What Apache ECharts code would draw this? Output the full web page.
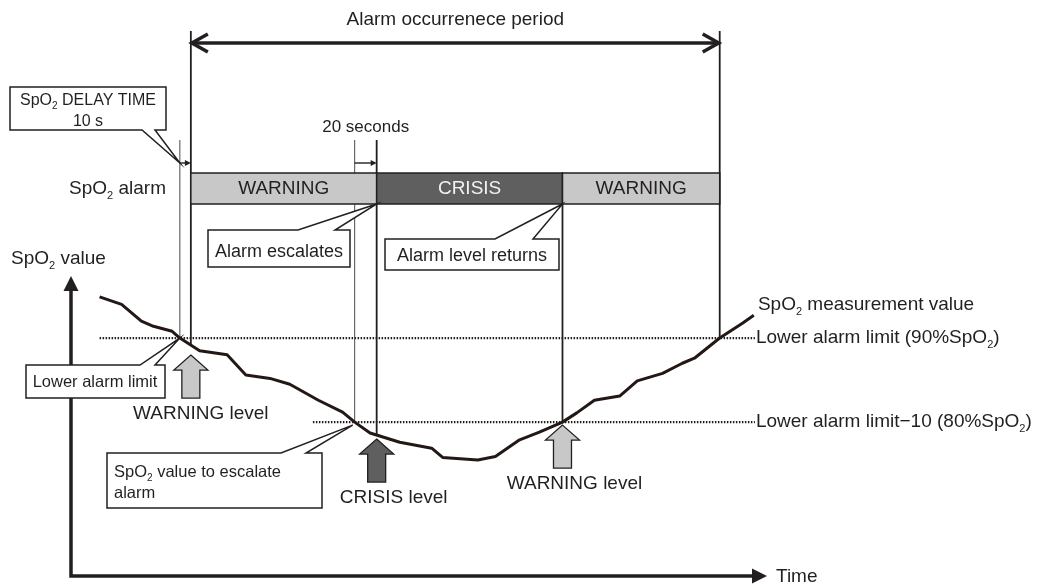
<!DOCTYPE html>
<html>
<head>
<meta charset="utf-8">
<title>SpO2 alarm escalation</title>
<script src="https://cdn.jsdelivr.net/npm/echarts@6/dist/echarts.min.js"></script>
<style>
  html, body { margin: 0; padding: 0; background: #ffffff; }
  #chart { width: 1045px; height: 586px; }
</style>
</head>
<body>
<div id="chart"></div>
<script>
// SpO2 trend: elapsed time (s) and measured SpO2 (%)
const timeS = [26, 46, 64, 75, 92, 99, 117, 142, 159, 181, 199, 225, 247, 258, 272, 299, 328, 338, 370, 386,
               408, 426, 447, 460, 476, 499, 515, 538, 556, 567, 590, 611, 621];
const spo2  = [94.9, 94.0, 92.0, 91.4, 90.8, 90.0, 88.5, 88.0, 85.6, 85.2, 84.5, 82.6, 81.2, 80.0, 78.7, 77.6, 76.9, 75.8, 75.5, 75.9,
               77.9, 78.8, 80.0, 81.1, 82.6, 83.1, 84.9, 85.8, 87.0, 87.6, 90.0, 91.8, 92.7];

// Alarm settings (% SpO2, s)
const lowerLimit = 90;
const escalateLimit = 80;
const delayTime = 10;
const escalateDelay = 20;

// Times (s) at which the trend crosses the limits
const fallBelowLower = 99;
const fallBelowEscalate = 258;
const riseAboveEscalate = 447;
const riseAboveLower = 590;

// Alarm level segments shown in the alarm row
const alarmLevels = ['WARNING', 'CRISIS', 'WARNING'];
const alarmBounds = [fallBelowLower + delayTime, fallBelowEscalate + escalateDelay, riseAboveEscalate, riseAboveLower];

// Axis extents
const xMax = 633;
const yMin = 61.7;
const yMax = 130.2;

const FONT = '"Liberation Sans", Arial, Helvetica, sans-serif';
const INK = '#231f20';
const LIGHT = '#c8c8c8';
const DARK = '#5f5f5f';

function spo2At(t) {
  for (let i = 1; i < timeS.length; i++) {
    if (t <= timeS[i]) {
      const f = (t - timeS[i - 1]) / (timeS[i] - timeS[i - 1]);
      return spo2[i - 1] + f * (spo2[i] - spo2[i - 1]);
    }
  }
  return spo2[spo2.length - 1];
}

// text with optional subscript fragments: {m|...} main, {s|...} subscript
function label(x, y, str, size, align, vAlign, color) {
  const c = color || INK;
  return {
    type: 'text',
    style: {
      x: x, y: y, text: str,
      align: align, verticalAlign: vAlign,
      textAlign: align, textVerticalAlign: vAlign,
      fontFamily: FONT, fontSize: size, fill: c,
      rich: {
        m: { fontFamily: FONT, fontSize: size, lineHeight: size + 5, fill: c, color: c },
        s: { fontFamily: FONT, fontSize: Math.round(size * 0.6), fill: c, color: c, verticalAlign: 'bottom' }
      }
    }
  };
}

function seg(x1, y1, x2, y2, w, color, dash) {
  return {
    type: 'line',
    shape: { x1: x1, y1: y1, x2: x2, y2: y2 },
    style: { stroke: color || INK, lineWidth: w, lineDash: dash || null }
  };
}

// speech-bubble box with a wedge pointing at tip
function callout(x0, y0, x1, y1, side, a, b, tip) {
  const pts = side === 'top'
    ? [[x0, y0], [a, y0], tip, [b, y0], [x1, y0], [x1, y1], [x0, y1]]
    : [[x0, y0], [x1, y0], [x1, y1], [b, y1], tip, [a, y1], [x0, y1]];
  return { type: 'polygon', shape: { points: pts }, style: { fill: '#ffffff', stroke: INK, lineWidth: 1.5, lineJoin: 'miter' } };
}

function blockArrow(cx, tipY, fill) {
  const pts = [[cx, tipY], [cx + 17, tipY + 15], [cx + 9, tipY + 15], [cx + 9, tipY + 43],
               [cx - 9, tipY + 43], [cx - 9, tipY + 15], [cx - 17, tipY + 15]];
  return { type: 'polygon', shape: { points: pts }, style: { fill: fill, stroke: INK, lineWidth: 1.3, lineJoin: 'miter' } };
}

function smallArrow(xa, xb, y) {
  return [
    seg(xa, y, xb - 5, y, 1.4),
    { type: 'polygon', shape: { points: [[xb, y], [xb - 6, y - 3], [xb - 6, y + 3]] }, style: { fill: INK } }
  ];
}

// layer below the trend: axes, limit lines, event lines, alarm row
function renderBack(params, api) {
  const X = t => api.coord([t, lowerLimit])[0];
  const Y = v => api.coord([0, v])[1];
  const ch = [];

  const x0 = X(0), yb = Y(yMin), xe = X(xMax);
  // axes with arrow heads
  ch.push({ type: 'polyline', shape: { points: [[x0, 289], [x0, yb], [xe - 13, yb]] },
            style: { stroke: INK, lineWidth: 3.5, lineJoin: 'miter', fill: null } });
  ch.push({ type: 'polygon', shape: { points: [[x0, 276], [x0 + 7.5, 291], [x0 - 7.5, 291]] }, style: { fill: INK } });
  ch.push({ type: 'polygon', shape: { points: [[xe, yb], [xe - 15, yb - 7.5], [xe - 15, yb + 7.5]] }, style: { fill: INK } });

  // limit lines
  ch.push(seg(X(26), Y(lowerLimit), X(622), Y(lowerLimit), 2.2, INK, [1.5, 1.5]));
  ch.push(seg(X(220), Y(escalateLimit), X(622), Y(escalateLimit), 2.2, INK, [1.5, 1.5]));

  // event lines
  ch.push(seg(X(fallBelowLower), 140, X(fallBelowLower), Y(lowerLimit), 1, '#4a4a4a'));
  ch.push(seg(X(alarmBounds[0]), 31, X(alarmBounds[0]), Y(spo2At(alarmBounds[0])), 1.8));
  ch.push(seg(X(fallBelowEscalate), 140, X(fallBelowEscalate), Y(escalateLimit), 1, '#4a4a4a'));
  ch.push(seg(X(alarmBounds[1]), 140, X(alarmBounds[1]), Y(spo2At(alarmBounds[1])), 1.8));
  ch.push(seg(X(alarmBounds[2]), 173, X(alarmBounds[2]), Y(escalateLimit), 1.8));
  ch.push(seg(X(alarmBounds[3]), 31, X(alarmBounds[3]), Y(lowerLimit), 1.8));

  // delay markers
  ch.push(...smallArrow(X(fallBelowLower), X(alarmBounds[0]), 163));
  ch.push(...smallArrow(X(fallBelowEscalate), X(alarmBounds[1]), 163));

  // alarm row
  for (let i = 0; i < alarmLevels.length; i++) {
    const xa = X(alarmBounds[i]), xb = X(alarmBounds[i + 1]);
    const crisis = alarmLevels[i] === 'CRISIS';
    ch.push({ type: 'rect', shape: { x: xa, y: 173, width: xb - xa, height: 31 },
              style: { fill: crisis ? DARK : LIGHT, stroke: INK, lineWidth: 1.5 } });
    ch.push(label((xa + xb) / 2, 189, '{m|' + alarmLevels[i] + '}', 19, 'center', 'middle', crisis ? '#f2f2f2' : INK));
  }

  // alarm occurrence period
  const pa = X(alarmBounds[0]) + 1, pb = X(alarmBounds[3]) - 1;
  ch.push(seg(pa + 1, 43, pb - 1, 43, 3.5));
  ch.push({ type: 'polyline', shape: { points: [[pa + 16, 34], [pa, 43], [pa + 16, 52]] },
            style: { stroke: INK, lineWidth: 3.5, lineJoin: 'miter', fill: null } });
  ch.push({ type: 'polyline', shape: { points: [[pb - 16, 34], [pb, 43], [pb - 16, 52]] },
            style: { stroke: INK, lineWidth: 3.5, lineJoin: 'miter', fill: null } });

  return { type: 'group', children: ch };
}

// layer above the trend: callouts, level arrows, texts
function renderFront(params, api) {
  const X = t => api.coord([t, lowerLimit])[0];
  const Y = v => api.coord([0, v])[1];
  const ch = [];

  ch.push(label((X(alarmBounds[0]) + X(alarmBounds[3])) / 2, 20, '{m|Alarm occurrenece period}', 19, 'center', 'middle'));
  ch.push(label((X(fallBelowEscalate) + X(alarmBounds[1])) / 2, 127, '{m|20 seconds}', 17, 'center', 'middle'));
  ch.push(label(166, 189, '{m|SpO}{s|2}{m| alarm}', 19, 'right', 'middle'));
  ch.push(label(11, 259, '{m|SpO}{s|2}{m| value}', 19, 'left', 'middle'));
  ch.push(label(776, Y(yMin) + 1, '{m|Time}', 19, 'left', 'middle'));

  // right-hand captions
  const xr = X(622) + 1;
  ch.push(label(xr + 2, 305, '{m|SpO}{s|2}{m| measurement value}', 19, 'left', 'middle'));
  ch.push(label(xr, Y(lowerLimit), '{m|Lower alarm limit (90%SpO}{s|2}{m|)}', 19, 'left', 'middle'));
  ch.push(label(xr, Y(escalateLimit), '{m|Lower alarm limit\u221210 (80%SpO}{s|2}{m|)}', 19, 'left', 'middle'));

  // callouts
  ch.push(callout(10, 87, 166, 130, 'bottom', 142, 155, [X(fallBelowLower), 163]));
  ch.push(label(88, 111, '{m|SpO}{s|2}{m| DELAY TIME}\n{m|10 s}', 16, 'center', 'middle'));

  ch.push(callout(208, 230, 350, 267, 'top', 298, 335, [X(alarmBounds[1]), 204]));
  ch.push(label(279, 252, '{m|Alarm escalates}', 18, 'center', 'middle'));

  ch.push(callout(385, 239, 559, 270, 'top', 495, 533, [X(alarmBounds[2]), 204]));
  ch.push(label(472, 256, '{m|Alarm level returns}', 18, 'center', 'middle'));

  ch.push(callout(26, 365, 165, 398, 'top', 140, 155, [X(fallBelowLower), Y(lowerLimit)]));
  ch.push(label(95, 382, '{m|Lower alarm limit}', 16.5, 'center', 'middle'));

  ch.push(callout(107, 453, 322, 508, 'top', 281, 306, [X(fallBelowEscalate) - 2, Y(escalateLimit) + 3]));
  ch.push(label(114, 483, '{m|SpO}{s|2}{m| value to escalate}\n{m|alarm}', 16.5, 'left', 'middle'));

  // level arrows under the trend
  const arrows = [
    { t: alarmBounds[0], gap: 10, fill: LIGHT, text: 'WARNING level', dx: 10 },
    { t: alarmBounds[1], gap: 4, fill: DARK, text: 'CRISIS level', dx: 17 },
    { t: alarmBounds[2], gap: 3, fill: LIGHT, text: 'WARNING level', dx: 12 }
  ];
  arrows.forEach(a => {
    const cx = X(a.t);
    const tip = Y(spo2At(a.t)) + a.gap;
    ch.push(blockArrow(cx, tip, a.fill));
    ch.push(label(cx + a.dx, tip + 59, '{m|' + a.text + '}', 19, 'center', 'middle'));
  });

  return { type: 'group', children: ch };
}

const chart = echarts.init(document.getElementById('chart'), null, { renderer: 'canvas' });
chart.setOption({
  animation: false,
  backgroundColor: '#ffffff',
  grid: { left: 71, right: 278, top: 0, bottom: 10 },
  xAxis: { type: 'value', min: 0, max: xMax, show: false },
  yAxis: { type: 'value', min: yMin, max: yMax, show: false },
  series: [
    { type: 'custom', renderItem: renderBack, data: [0], z: 1, silent: true, clip: false },
    {
      type: 'line',
      data: timeS.map((t, i) => [t, spo2[i]]),
      symbol: 'none',
      lineStyle: { color: '#231815', width: 3, join: 'round' },
      z: 3, silent: true
    },
    { type: 'custom', renderItem: renderFront, data: [0], z: 5, silent: true, clip: false }
  ]
});
</script>
</body>
</html>
